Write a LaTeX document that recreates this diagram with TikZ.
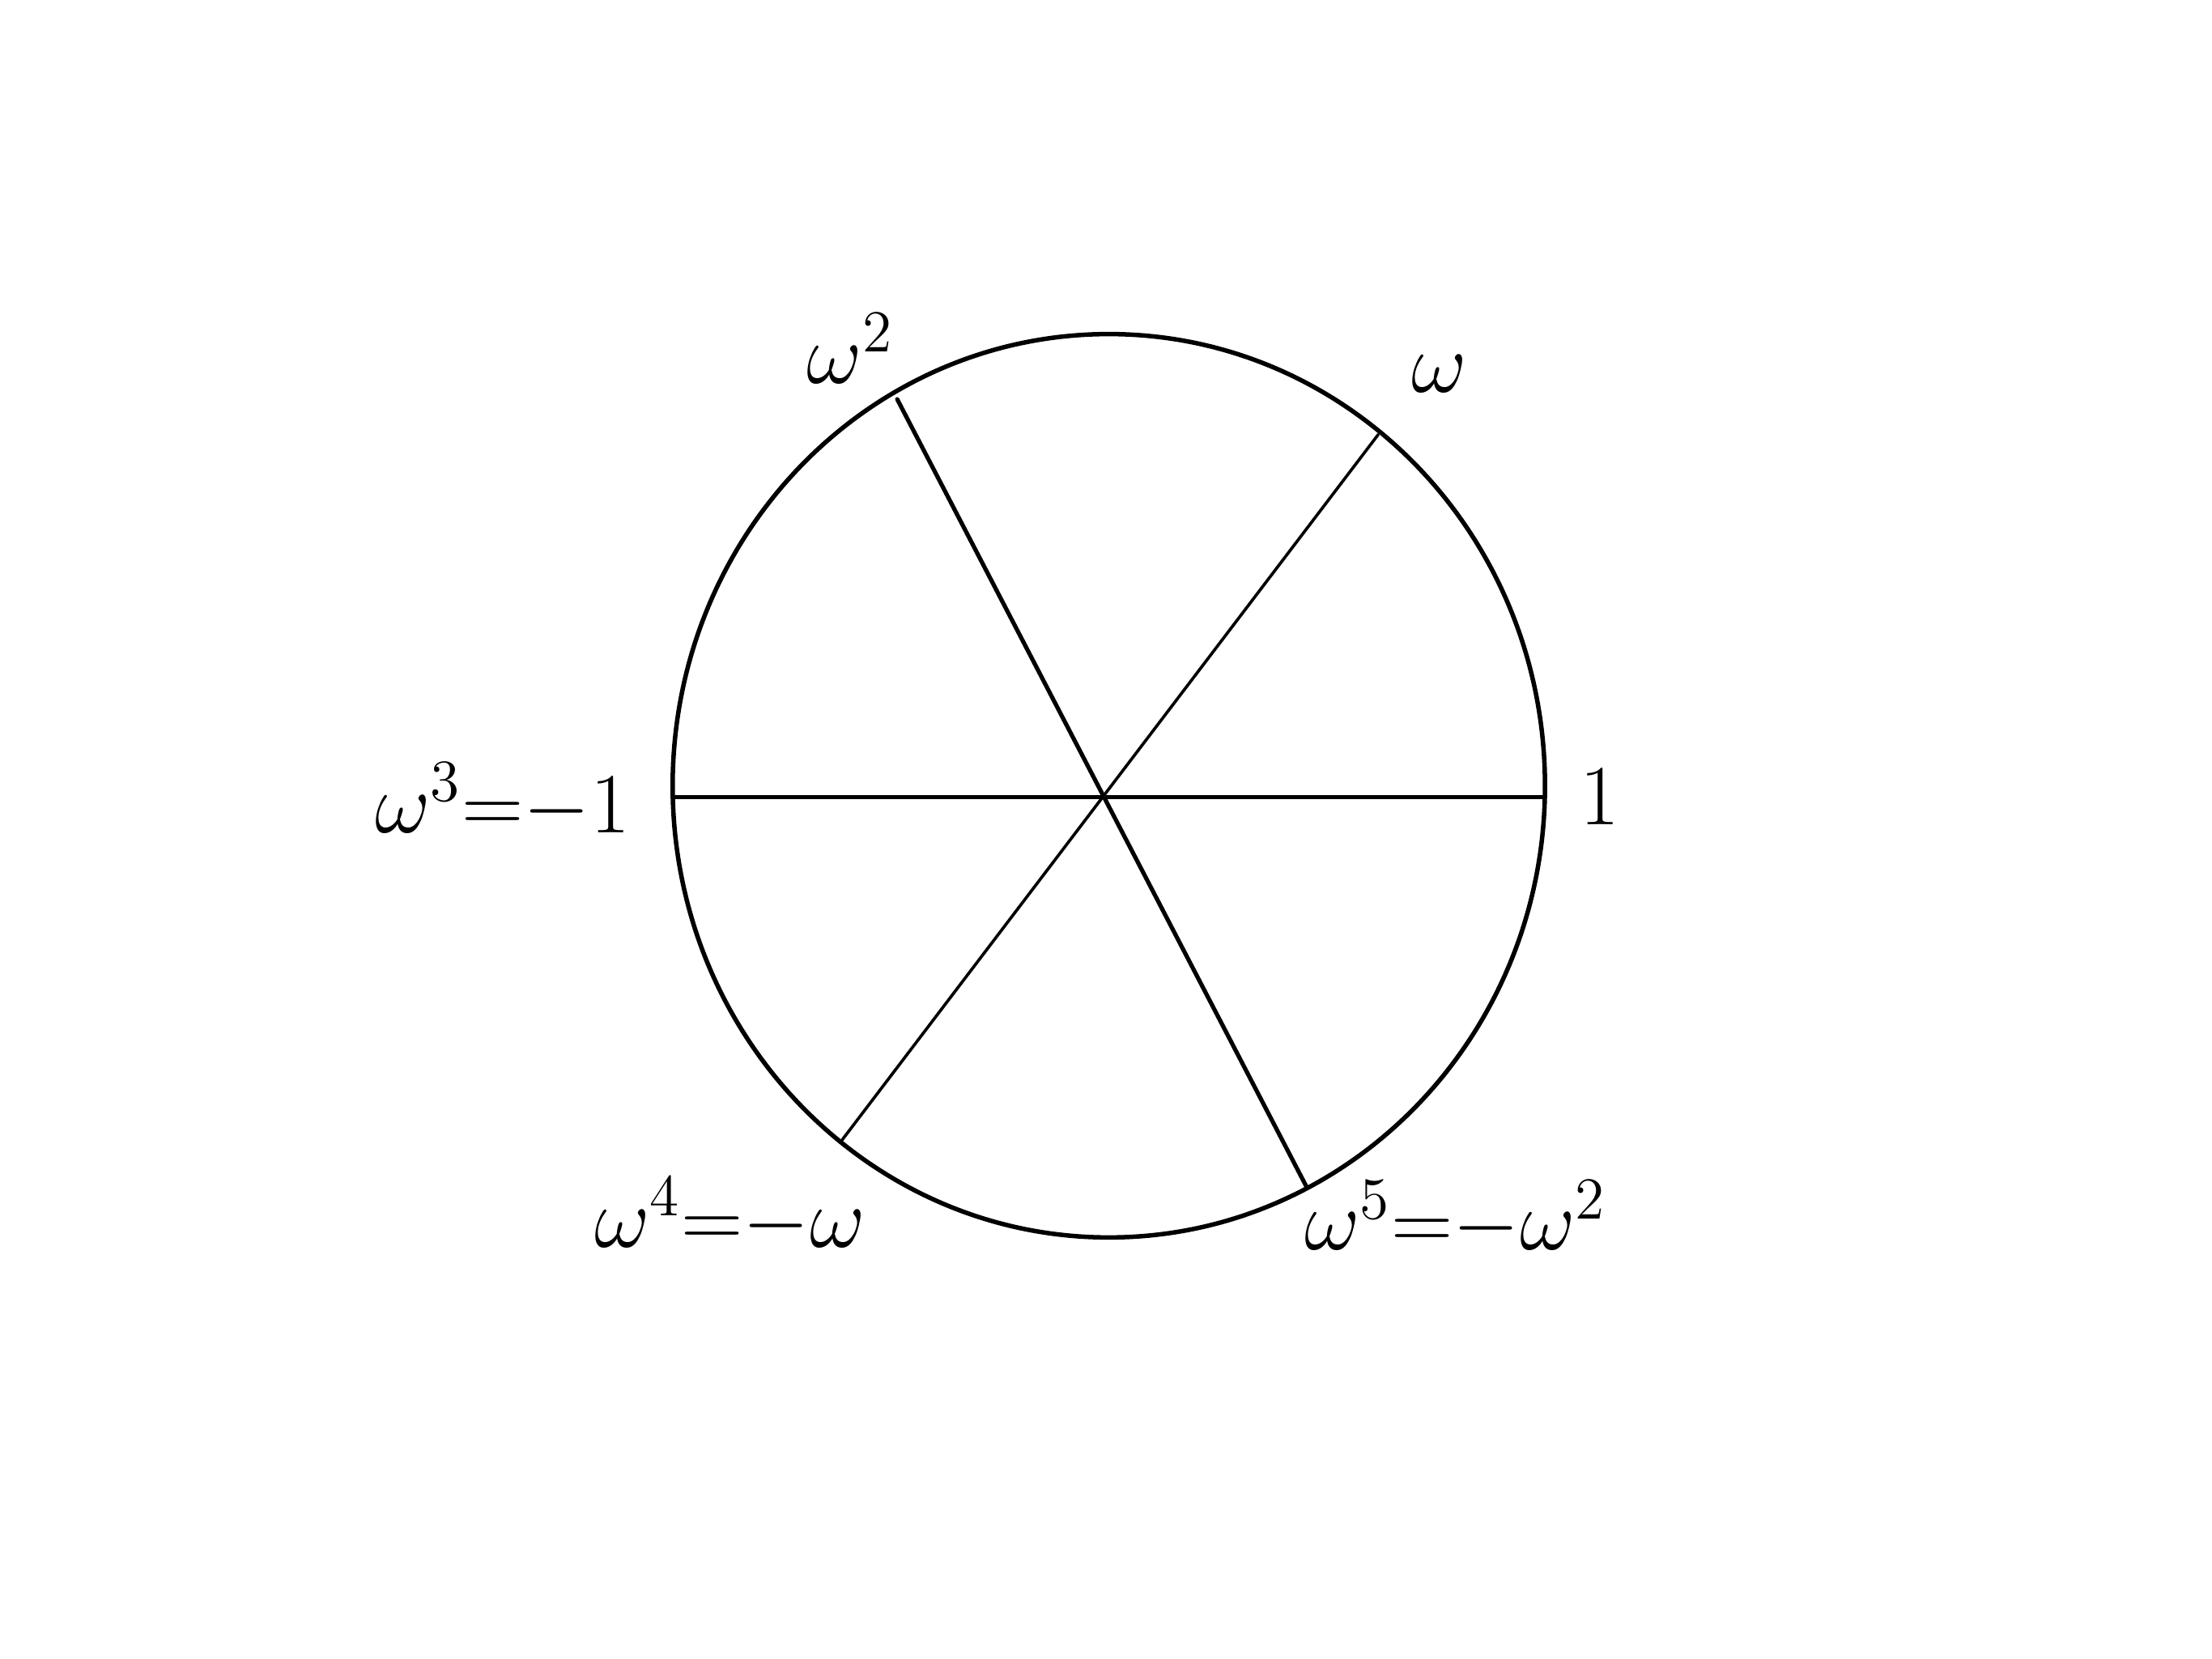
\documentclass[tikz,border=0pt]{standalone}
\usepackage{tikz}

\begin{document}
\begin{tikzpicture}[x=0.01cm, y=-0.01cm, line cap=round,
  spoke/.style={line width=0.85pt},
  lbl/.style={font=\LARGE, inner sep=0pt}]
% page
\useasboundingbox (0,0) rectangle (1568,1176);
% centre and roots of unity
\coordinate (o) at (786,565);
\coordinate (c) at (786,557);
\foreach \x/\y/\n in {1095/565/w0, 977/308/w1, 636/283/w2, 478/565/w3, 597/808/w4, 926/841/w5}
  \coordinate (\n) at (\x,\y);
% unit circle
\draw[line width=0.9pt] (c) ellipse [x radius=3.09cm, y radius=3.20cm];
% diameters
\draw[spoke] (w3) -- (w0);
\draw[spoke] (w2) -- (w5);
\draw[line width=0.6pt] (w1) -- (w4);
% labels
\node[lbl] (l0) at (1134,565) {$1$};
\node[lbl] (l1) at (1020,265) {$\omega$};
\node[lbl] (l2) at (603,247) {$\omega^2$};
\node[lbl, anchor=east] (l3) at (447,568) {$\omega^3{=}{-}1$};
\node[lbl, anchor=east] (l4) at (614,862) {$\omega^4{=}{-}\omega$};
\node[lbl, anchor=west] (l5) at (924,864) {$\omega^5{=}{-}\omega^2$};
\end{tikzpicture}
\end{document}
